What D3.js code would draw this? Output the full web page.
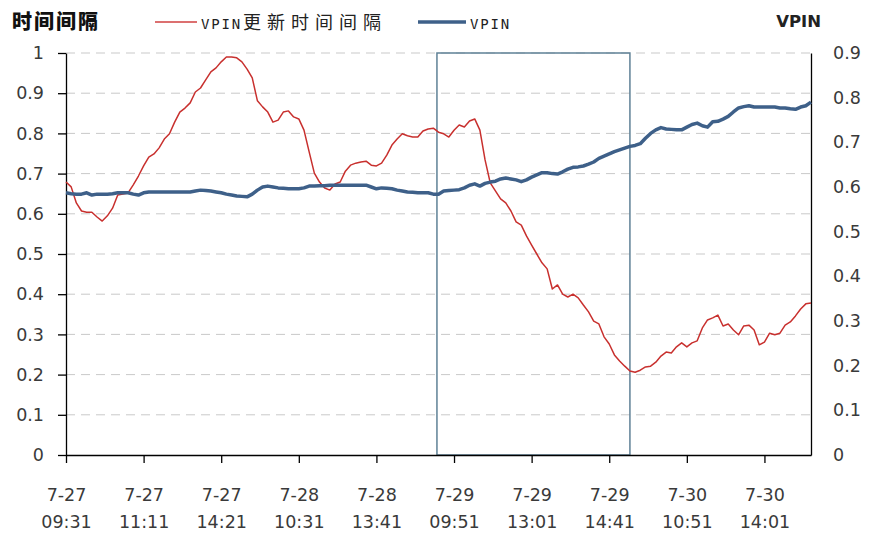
<!DOCTYPE html>
<html>
<head>
<meta charset="utf-8">
<script src="https://cdn.jsdelivr.net/npm/d3@7"></script>
<style>
  html, body { margin: 0; padding: 0; background: #ffffff; }
  svg { display: block; }
</style>
</head>
<body>
<svg id="chart" width="872" height="534"></svg>
<script>
// VPIN update interval (left axis) and VPIN (right axis), one value per sample
const updateInterval = [
  0.679, 0.667, 0.627, 0.607, 0.604, 0.604, 0.592, 0.582, 0.595, 0.614,
  0.647, 0.649, 0.652, 0.672, 0.694, 0.719, 0.741, 0.749, 0.764, 0.786,
  0.799, 0.828, 0.853, 0.863, 0.876, 0.903, 0.913, 0.933, 0.953, 0.963,
  0.978, 0.990, 0.990, 0.988, 0.978, 0.960, 0.938, 0.881, 0.866, 0.853,
  0.828, 0.833, 0.853, 0.856, 0.841, 0.836, 0.808, 0.754, 0.701, 0.679,
  0.664, 0.659, 0.674, 0.679, 0.706, 0.721, 0.726, 0.729, 0.731, 0.721,
  0.719, 0.726, 0.746, 0.771, 0.786, 0.799, 0.794, 0.791, 0.791, 0.806,
  0.811, 0.813, 0.803, 0.799, 0.791, 0.808, 0.821, 0.816, 0.831, 0.836,
  0.808, 0.734, 0.677, 0.657, 0.637, 0.627, 0.607, 0.580, 0.572, 0.545,
  0.522, 0.500, 0.478, 0.463, 0.413, 0.423, 0.400, 0.393, 0.400, 0.391,
  0.373, 0.356, 0.333, 0.326, 0.294, 0.276, 0.249, 0.234, 0.221, 0.209,
  0.206, 0.211, 0.219, 0.221, 0.231, 0.246, 0.256, 0.254, 0.269, 0.279,
  0.269, 0.279, 0.284, 0.316, 0.336, 0.341, 0.348, 0.321, 0.326, 0.311,
  0.299, 0.321, 0.323, 0.311, 0.274, 0.281, 0.303, 0.299, 0.303, 0.323,
  0.331, 0.346, 0.363, 0.376, 0.378
];

const vpin = [
  0.587, 0.585, 0.584, 0.584, 0.587, 0.582, 0.584, 0.584, 0.584, 0.585,
  0.587, 0.587, 0.587, 0.584, 0.582, 0.587, 0.589, 0.589, 0.589, 0.589,
  0.589, 0.589, 0.589, 0.589, 0.589, 0.591, 0.593, 0.592, 0.591, 0.589,
  0.587, 0.584, 0.582, 0.580, 0.579, 0.578, 0.584, 0.593, 0.600, 0.602,
  0.600, 0.598, 0.597, 0.596, 0.596, 0.596, 0.598, 0.602, 0.602, 0.603,
  0.603, 0.604, 0.604, 0.604, 0.604, 0.604, 0.604, 0.604, 0.604, 0.600,
  0.596, 0.598, 0.597, 0.596, 0.593, 0.591, 0.589, 0.588, 0.587, 0.587,
  0.587, 0.584, 0.584, 0.591, 0.592, 0.593, 0.594, 0.598, 0.604, 0.607,
  0.602, 0.608, 0.611, 0.613, 0.618, 0.620, 0.618, 0.616, 0.612, 0.616,
  0.622, 0.627, 0.632, 0.632, 0.630, 0.629, 0.634, 0.640, 0.644, 0.645,
  0.647, 0.651, 0.656, 0.664, 0.669, 0.674, 0.679, 0.683, 0.687, 0.691,
  0.693, 0.697, 0.709, 0.720, 0.728, 0.733, 0.730, 0.729, 0.728, 0.728,
  0.734, 0.740, 0.743, 0.737, 0.734, 0.746, 0.747, 0.752, 0.758, 0.768,
  0.777, 0.780, 0.782, 0.779, 0.779, 0.779, 0.779, 0.779, 0.777, 0.777,
  0.775, 0.774, 0.779, 0.782, 0.790
];

// Labelled sample positions on the category axis and their two-line labels
const tickIndices = [0, 15, 30, 45, 60, 75, 90, 105, 120, 135];
const tickDates = ["7-27", "7-27", "7-27", "7-28", "7-28", "7-29", "7-29", "7-29", "7-30", "7-30"];
const tickTimes = ["09:31", "11:11", "14:21", "10:31", "13:41", "09:51", "13:01", "14:41", "10:51", "14:01"];

const leftTicks = [0, 0.1, 0.2, 0.3, 0.4, 0.5, 0.6, 0.7, 0.8, 0.9, 1];
const rightTicks = [0, 0.1, 0.2, 0.3, 0.4, 0.5, 0.6, 0.7, 0.8, 0.9];

// Sample range of the highlighted session (7-29)
const highlightRange = [71.7, 109];

const seriesNames = ["VPIN更新时间间隔", "VPIN"];
const leftTitle = "时间间隔";
const rightTitle = "VPIN";

// ---------------------------------------------------------------
const svg = d3.select("#chart");
const plot = { left: 66, right: 811, top: 53, bottom: 455 };
const labelFont = "'DejaVu Sans', sans-serif";
const labelColor = "#3a3a3a";

const x = d3.scaleLinear().domain([0, updateInterval.length - 1]).range([plot.left, plot.right]);
const yLeft = d3.scaleLinear().domain([0, 1]).range([plot.bottom, plot.top]);
const yRight = d3.scaleLinear().domain([0, 0.9]).range([plot.bottom, plot.top]);

// dashed horizontal gridlines
svg.append("g")
  .selectAll("line")
  .data(leftTicks.filter(d => d > 0))
  .join("line")
  .attr("x1", plot.left).attr("x2", plot.right)
  .attr("y1", d => yLeft(d)).attr("y2", d => yLeft(d))
  .attr("stroke", "#c9c9c9")
  .attr("stroke-width", 1)
  .attr("stroke-dasharray", "9,6");

// highlight box
svg.append("rect")
  .attr("x", x(highlightRange[0]))
  .attr("y", plot.top)
  .attr("width", x(highlightRange[1]) - x(highlightRange[0]))
  .attr("height", plot.bottom - plot.top)
  .attr("fill", "none")
  .attr("stroke", "#5f8196")
  .attr("stroke-width", 1.5);

// left axis
const axL = svg.append("g")
  .attr("transform", `translate(${plot.left},0)`)
  .call(d3.axisLeft(yLeft).tickValues(leftTicks).tickSize(8).tickSizeOuter(0).tickPadding(14)
    .tickFormat(d => d3.format("")(+d.toFixed(1))));
axL.select(".domain").attr("stroke", "#000").attr("stroke-width", 1.3);
axL.selectAll(".tick line").attr("stroke", "#000").attr("stroke-width", 1.3);
axL.selectAll(".tick text").attr("font-family", labelFont).attr("font-size", 17.5).attr("fill", labelColor);

// right axis (labels only)
const axR = svg.append("g")
  .attr("transform", `translate(${plot.right},0)`)
  .call(d3.axisRight(yRight).tickValues(rightTicks).tickSize(0).tickSizeOuter(0).tickPadding(22)
    .tickFormat(d => d3.format("")(+d.toFixed(1))));
axR.select(".domain").attr("stroke", "#000").attr("stroke-width", 1.3);
axR.selectAll(".tick text").attr("font-family", labelFont).attr("font-size", 17.5).attr("fill", labelColor);

// bottom axis with two-line labels
const axB = svg.append("g")
  .attr("transform", `translate(0,${plot.bottom})`)
  .call(d3.axisBottom(x).tickValues(tickIndices).tickSize(8).tickSizeOuter(0).tickFormat(""));
axB.select(".domain").attr("stroke", "#000").attr("stroke-width", 1.3);
axB.selectAll(".tick line").attr("stroke", "#000").attr("stroke-width", 1.3);
axB.selectAll(".tick").each(function (d, i) {
  const t = d3.select(this).append("text")
    .attr("text-anchor", "middle")
    .attr("font-family", labelFont)
    .attr("font-size", 17.5)
    .attr("fill", labelColor);
  t.append("tspan").attr("x", 0).attr("y", 46).text(tickDates[i]);
  t.append("tspan").attr("x", 0).attr("y", 73).text(tickTimes[i]);
});

// series lines
const lineLeft = d3.line().x((d, i) => x(i)).y(d => yLeft(d));
const lineRight = d3.line().x((d, i) => x(i)).y(d => yRight(d));

svg.append("path")
  .datum(updateInterval)
  .attr("d", lineLeft)
  .attr("fill", "none")
  .attr("stroke", "#c8302e")
  .attr("stroke-width", 1.5)
  .attr("stroke-linejoin", "round");

svg.append("path")
  .datum(vpin)
  .attr("d", lineRight)
  .attr("fill", "none")
  .attr("stroke", "#3e6089")
  .attr("stroke-width", 3.5)
  .attr("stroke-linejoin", "round");

// axis titles
svg.append("text")
  .attr("x", 12).attr("y", 29)
  .attr("font-family", "'Noto Sans CJK SC', sans-serif")
  .attr("font-weight", 900)
  .attr("font-size", 20)
  .attr("letter-spacing", 2)
  .attr("fill", "#111")
  .text(leftTitle);

svg.append("text")
  .attr("x", 821).attr("y", 27)
  .attr("text-anchor", "end")
  .attr("font-family", "'DejaVu Sans', sans-serif")
  .attr("font-weight", "bold")
  .attr("font-size", 16.5)
  .attr("fill", "#222")
  .text(rightTitle);

// legend
const legend = svg.append("g");
const legendItems = [
  { name: seriesNames[0], color: "#d04040", width: 1.5, x0: 155, x1: 197 },
  { name: seriesNames[1], color: "#3e6089", width: 3.5, x0: 418, x1: 466 }
];
legendItems.forEach(item => {
  legend.append("line")
    .attr("x1", item.x0).attr("x2", item.x1)
    .attr("y1", 22).attr("y2", 22)
    .attr("stroke", item.color)
    .attr("stroke-width", item.width);
  const latin = item.name.match(/^[A-Za-z]+/)[0];
  const rest = item.name.slice(latin.length);
  const t = legend.append("text")
    .attr("x", item.x1 + 4).attr("y", 29)
    .attr("fill", "#222");
  t.append("tspan")
    .attr("font-family", "'DejaVu Sans Mono', monospace")
    .attr("font-size", 14)
    .attr("letter-spacing", 1.8)
    .text(latin);
  if (rest) {
    t.append("tspan")
      .attr("font-family", "'Noto Sans CJK SC', sans-serif")
      .attr("font-size", 18)
      .attr("letter-spacing", 6)
      .attr("dx", 1)
      .text(rest);
  }
});
</script>
</body>
</html>
